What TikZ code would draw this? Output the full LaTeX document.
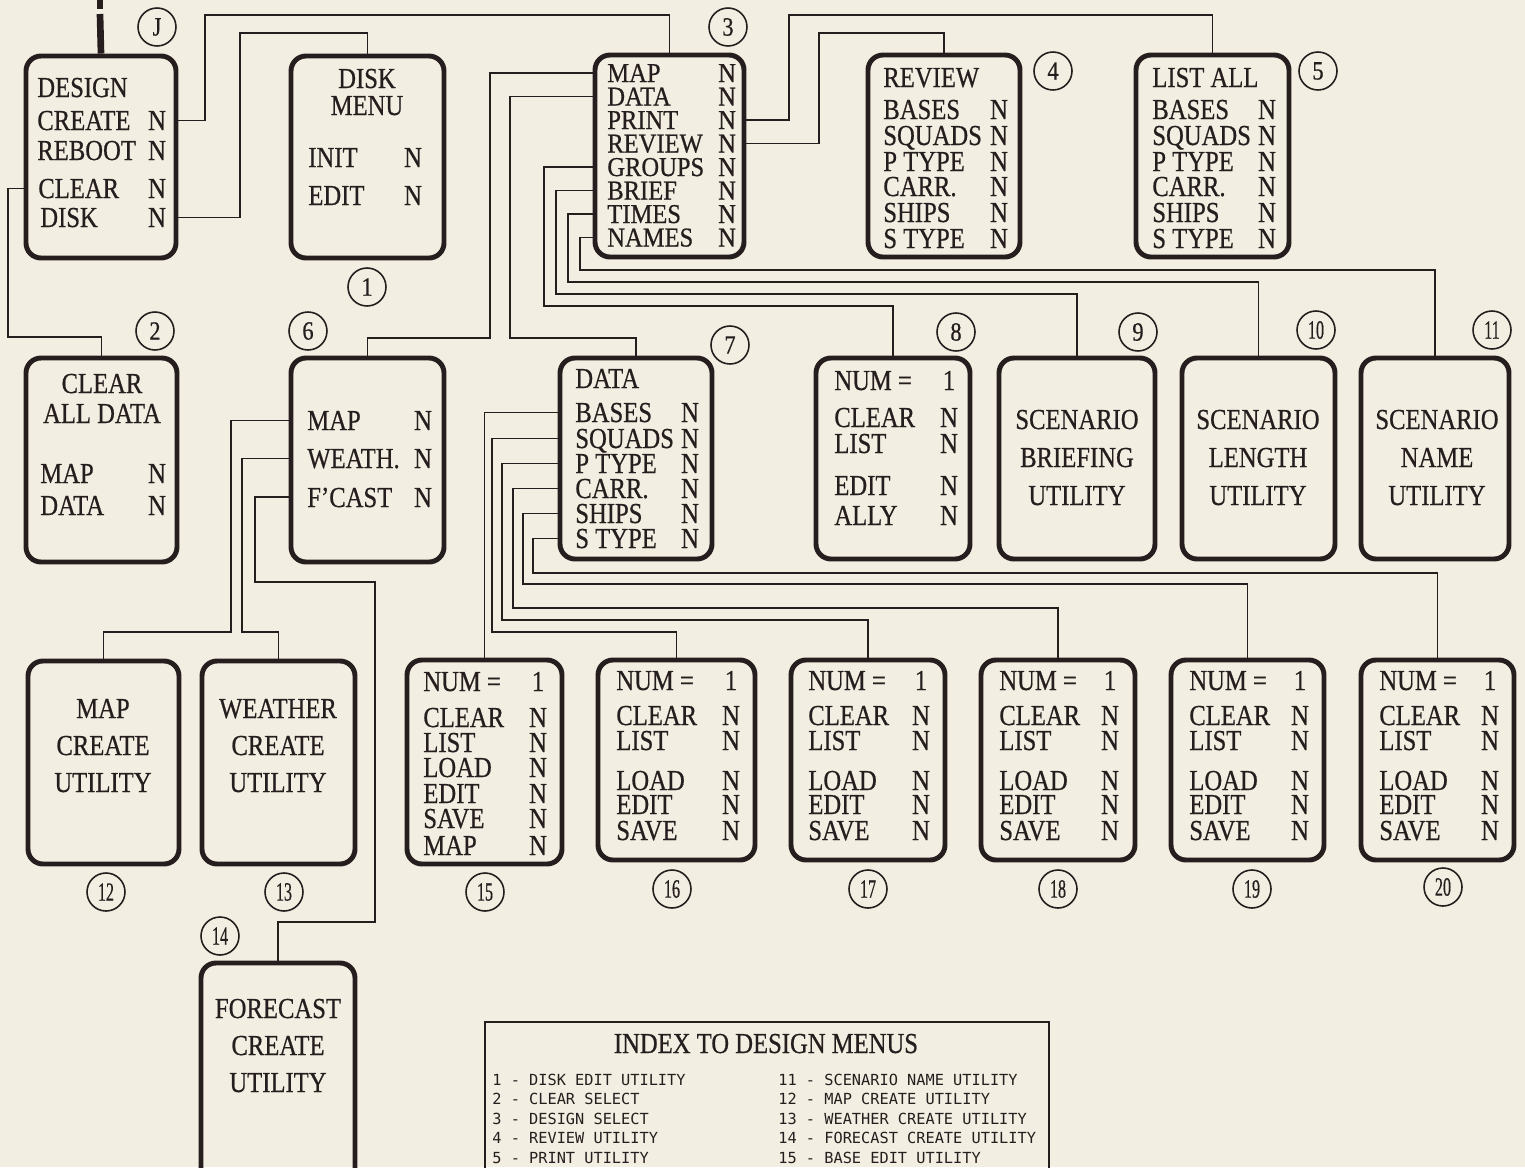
\documentclass[tikz,border=0pt]{standalone}
\usepackage{fontspec}
\usepackage{graphicx}
\setmainfont{Liberation Serif}[FakeStretch=0.85,FakeBold=0.6]
\newfontfamily\idxfont{DejaVu Sans Mono}
\usetikzlibrary{fit}
\definecolor{paper}{RGB}{242,238,225}
\definecolor{ink}{RGB}{38,30,30}
\tikzset{
  menubox/.style={draw=ink, line width=2.8pt, rounded corners=0.3cm, inner sep=0pt},
  conn/.style={draw=ink, line width=1pt},
  lbl/.style={text=ink, inner sep=0pt, text depth=0pt, anchor=base west, font=\fontsize{16.5}{16.5}\selectfont},
  val/.style={lbl, anchor=base},
  ctr/.style={lbl, anchor=base},
  slbl/.style={lbl, font=\fontsize{15.5}{15.5}\selectfont},
  sval/.style={slbl, anchor=base},
  numc/.style={draw=ink, circle, line width=0.9pt, minimum size=0.76cm, inner sep=0pt, text=ink, font=\fontsize{15}{15}\selectfont},
  idx/.style={text=ink, inner sep=0pt, anchor=base west, font=\idxfont\fontsize{8.7}{8.7}\selectfont},
}
\newcommand\mrow[6]{%
  \node[lbl] (#1) at (#2,#4) {#5};
  \node[val] (#1n) at (#3,#4) {#6};}
\newcommand\srow[6]{%
  \node[slbl] (#1) at (#2,#4) {\scalebox{1.06}[1]{#5}};
  \node[sval] (#1n) at (#3,#4) {\scalebox{1.06}[1]{#6}};}
\newcommand\tw[1]{\scalebox{0.72}[1]{#1}}
\begin{document}
\begin{tikzpicture}[x=0.02cm,y=-0.02cm]
\fill[paper] (0,0) rectangle (1525,1167);
\useasboundingbox (0,0) rectangle (1525,1167);
\clip (0,0) rectangle (1525,1167);

% ---------- boxes ----------
\node[menubox, fit={(26,56) (176,258)}] (b0) {};
\node[menubox, fit={(291,56) (444,258)}] (b1) {};
\node[menubox, fit={(26,358) (177,562)}] (b2) {};
\node[menubox, fit={(595,55) (744,257)}] (b3) {};
\node[menubox, fit={(868,55) (1020,257)}] (b4) {};
\node[menubox, fit={(1136,55) (1289,257)}] (b5) {};
\node[menubox, fit={(291,358) (444,562)}] (b6) {};
\node[menubox, fit={(560,358) (712,559)}] (b7) {};
\node[menubox, fit={(816,358) (970,559)}] (b8) {};
\node[menubox, fit={(999,358) (1155,559)}] (b9) {};
\node[menubox, fit={(1182,358) (1335,559)}] (b10) {};
\node[menubox, fit={(1361,358) (1509,559)}] (b11) {};
\node[menubox, fit={(28,661) (179,864)}] (b12) {};
\node[menubox, fit={(202,661) (355,864)}] (b13) {};
\node[menubox, fit={(201,963) (355,1200)}] (b14) {};
\node[menubox, fit={(407,660) (562,864)}] (b15) {};
\node[menubox, fit={(598,660) (755,860)}] (b16) {};
\node[menubox, fit={(791,660) (945,860)}] (b17) {};
\node[menubox, fit={(981,660) (1135,860)}] (b18) {};
\node[menubox, fit={(1171,660) (1324,860)}] (b19) {};
\node[menubox, fit={(1361,660) (1514,860)}] (b20) {};
\node[draw=ink, line width=1.2pt, inner sep=0pt, fit={(485,1022) (1049,1200)}] (bidx) {};

% ---------- circled numbers ----------
\node[numc] (c0) at (157,27) {J};
\node[numc] (c1) at (367,287) {1};
\node[numc] (c2) at (155,331) {2};
\node[numc] (c3) at (728,27) {3};
\node[numc] (c4) at (1053,71) {4};
\node[numc] (c5) at (1318,71) {5};
\node[numc] (c6) at (308,331) {6};
\node[numc] (c7) at (730,345) {7};
\node[numc] (c8) at (956,332) {8};
\node[numc] (c9) at (1138,332) {9};
\node[numc] (c10) at (1316,330) {\tw{10}};
\node[numc] (c11) at (1492,330) {\tw{11}};
\node[numc] (c12) at (106,892) {\tw{12}};
\node[numc] (c13) at (284,892) {\tw{13}};
\node[numc] (c14) at (220,936) {\tw{14}};
\node[numc] (c15) at (485,892) {\tw{15}};
\node[numc] (c16) at (672,889) {\tw{16}};
\node[numc] (c17) at (868,889) {\tw{17}};
\node[numc] (c18) at (1058,889) {\tw{18}};
\node[numc] (c19) at (1252,889) {\tw{19}};
\node[numc] (c20) at (1443,887) {\tw{20}};

% ---------- texts ----------
% J: design
\node[lbl] (jdesign) at (37,97) {DESIGN};
\mrow{jcreate}{37}{157}{130}{CREATE}{N}
\mrow{jreboot}{37}{157}{160}{REBOOT}{N}
\mrow{jclear}{38}{157}{198}{CLEAR}{N}
\mrow{jdisk}{40}{157}{227}{DISK}{N}
% 1: disk menu
\node[ctr] (dk1) at (367,88) {DISK};
\node[ctr] (dk2) at (367,115) {MENU};
\mrow{dinit}{308}{413}{167}{INIT}{N}
\mrow{dedit}{308}{413}{205}{EDIT}{N}
% 2: clear
\node[ctr] (ca) at (102,393) {CLEAR};
\node[ctr] (cb) at (102,423) {ALL DATA};
\mrow{cmap}{40}{157}{483}{MAP}{N}
\mrow{cdata}{40}{157}{515}{DATA}{N}
% 3: design select
\srow{smap}{607}{727}{82}{MAP}{N}
\srow{sdata}{607}{727}{105.5}{DATA}{N}
\srow{sprint}{607}{727}{129}{PRINT}{N}
\srow{sreview}{607}{727}{152.5}{REVIEW}{N}
\srow{sgroups}{607}{727}{176}{GROUPS}{N}
\srow{sbrief}{607}{727}{199.5}{BRIEF}{N}
\srow{stimes}{607}{727}{223}{TIMES}{N}
\srow{snames}{607}{727}{246.5}{NAMES}{N}
% 4: review
\node[lbl] (rtitle) at (883,87) {REVIEW};
\mrow{rbases}{883}{999}{119}{BASES}{N}
\mrow{rsquads}{883}{999}{145}{SQUADS}{N}
\mrow{rptype}{883}{999}{171}{P TYPE}{N}
\mrow{rcarr}{883}{999}{196}{CARR.}{N}
\mrow{rships}{883}{999}{222}{SHIPS}{N}
\mrow{rstype}{883}{999}{248}{S TYPE}{N}
% 5: list all
\node[lbl] (ltitle) at (1152,87) {LIST ALL};
\mrow{lbases}{1152}{1267}{119}{BASES}{N}
\mrow{lsquads}{1152}{1267}{145}{SQUADS}{N}
\mrow{lptype}{1152}{1267}{171}{P TYPE}{N}
\mrow{lcarr}{1152}{1267}{196}{CARR.}{N}
\mrow{lships}{1152}{1267}{222}{SHIPS}{N}
\mrow{lstype}{1152}{1267}{248}{S TYPE}{N}
% 6: map/weather/forecast
\mrow{fmap}{307}{423}{430}{MAP}{N}
\mrow{fweath}{307}{423}{468}{WEATH.}{N}
\mrow{ffc}{307}{423}{507}{F’CAST}{N}
% 7: data
\node[lbl] (dtitle) at (575,388) {DATA};
\mrow{dbases}{575}{690}{422}{BASES}{N}
\mrow{dsquads}{575}{690}{448}{SQUADS}{N}
\mrow{dptype}{575}{690}{473}{P TYPE}{N}
\mrow{dcarr}{575}{690}{498}{CARR.}{N}
\mrow{dships}{575}{690}{523}{SHIPS}{N}
\mrow{dstype}{575}{690}{548}{S TYPE}{N}
% 8: groups
\mrow{gnum}{834}{949}{390}{NUM =}{1}
\mrow{gclear}{834}{949}{427}{CLEAR}{N}
\mrow{glist}{834}{949}{453}{LIST}{N}
\mrow{gedit}{834}{949}{495}{EDIT}{N}
\mrow{gally}{834}{949}{525}{ALLY}{N}
% 9-11
\node[ctr] (ba) at (1077,429) {SCENARIO};
\node[ctr] (bb) at (1077,467) {BRIEFING};
\node[ctr] (bc) at (1077,505) {UTILITY};
\node[ctr] (ta) at (1258,429) {SCENARIO};
\node[ctr] (tb) at (1258,467) {LENGTH};
\node[ctr] (tc) at (1258,505) {UTILITY};
\node[ctr] (na) at (1437,429) {SCENARIO};
\node[ctr] (nb) at (1437,467) {NAME};
\node[ctr] (nc) at (1437,505) {UTILITY};
% 12-14
\node[ctr] (ma) at (103,718) {MAP};
\node[ctr] (mb) at (103,755) {CREATE};
\node[ctr] (mc) at (103,792) {UTILITY};
\node[ctr] (wa) at (278,718) {WEATHER};
\node[ctr] (wb) at (278,755) {CREATE};
\node[ctr] (wc) at (278,792) {UTILITY};
\node[ctr] (fa) at (278,1018) {FORECAST};
\node[ctr] (fb) at (278,1055) {CREATE};
\node[ctr] (fc) at (278,1092) {UTILITY};
% 15
\mrow{pnum}{423}{538}{691}{NUM =}{1}
\mrow{pclear}{423}{538}{727}{CLEAR}{N}
\mrow{plist}{423}{538}{752}{LIST}{N}
\mrow{pload}{423}{538}{777}{LOAD}{N}
\mrow{pedit}{423}{538}{803}{EDIT}{N}
\mrow{psave}{423}{538}{828}{SAVE}{N}
\mrow{pmap}{423}{538}{855}{MAP}{N}
% 16-20
\foreach \k/\xl/\xn in {q/616/731, r/808/921, s/999/1110, t/1189/1300, u/1379/1490}{
  \mrow{\k num}{\xl}{\xn}{690}{NUM =}{1}
  \mrow{\k clear}{\xl}{\xn}{725}{CLEAR}{N}
  \mrow{\k list}{\xl}{\xn}{750}{LIST}{N}
  \mrow{\k load}{\xl}{\xn}{790}{LOAD}{N}
  \mrow{\k edit}{\xl}{\xn}{814}{EDIT}{N}
  \mrow{\k save}{\xl}{\xn}{840}{SAVE}{N}
}
% index
\node[ctr] (ititle) at (766,1053) {INDEX TO DESIGN MENUS};
\node[idx] (i1) at (492,1085) {1 - DISK EDIT UTILITY};
\node[idx] (i2) at (492,1104.5) {2 - CLEAR SELECT};
\node[idx] (i3) at (492,1124) {3 - DESIGN SELECT};
\node[idx] (i4) at (492,1143.5) {4 - REVIEW UTILITY};
\node[idx] (i5) at (492,1163) {5 - PRINT UTILITY};
\node[idx] (i11) at (778,1085) {11 - SCENARIO NAME UTILITY};
\node[idx] (i12) at (778,1104.5) {12 - MAP CREATE UTILITY};
\node[idx] (i13) at (778,1124) {13 - WEATHER CREATE UTILITY};
\node[idx] (i14) at (778,1143.5) {14 - FORECAST CREATE UTILITY};
\node[idx] (i15) at (778,1163) {15 - BASE EDIT UTILITY};

% ---------- connectors ----------
\coordinate (jt0) at (100,0);
\coordinate (jt1) at (100,9);
\coordinate (jt2) at (100,14);
\draw[ink, line width=3.8pt] (jt0) -- (jt1);
\draw[ink, line width=3.8pt] (jt2) -- (b0.north);

\coordinate (k1) at (205,15);
\coordinate (k2) at (240,33);
\coordinate (k3) at (8,337);
\coordinate (k5) at (490,338);
\coordinate (k6) at (510,338);
\coordinate (k7) at (789,15);
\coordinate (k8) at (819,33);
\coordinate (k9) at (544,306);
\coordinate (k10) at (556,294);
\coordinate (k11) at (568,282);
\coordinate (k12) at (580,270);
\coordinate (k13) at (231,632);
\coordinate (k14) at (242,632);
\coordinate (k15) at (255,582);
\coordinate (k16) at (375,922);
\coordinate (k17) at (492,632);
\coordinate (k18) at (502,620);
\coordinate (k19) at (513,608);
\coordinate (k20) at (523,584);
\coordinate (k21) at (533,573);

\draw[conn] (b0.east |- jcreate) -| (k1) -| (b3.north);
\draw[conn] (b0.east |- jdisk) -| (k2) -| (b1.north);
\draw[conn] (b0.west |- jclear) -| (k3) -| (b2.north);

\draw[conn] (b3.west |- smap) -| (k5) -| (b6.north);
\draw[conn] (b3.west |- sdata) -| (k6) -| (b7.north);
\draw[conn] (b3.east |- sprint) -| (k7) -| (b5.north);
\draw[conn] (b3.east |- sreview) -| (k8) -| (b4.north);
\draw[conn] (b3.west |- sgroups) -| (k9) -| (b8.north);
\draw[conn] (b3.west |- sbrief) -| (k10) -| (b9.north);
\draw[conn] (b3.west |- stimes) -| (k11) -| (b10.north);
\draw[conn] (b3.west |- snames) -| (k12) -| (b11.north);

\draw[conn] (b6.west |- fmap) -| (k13) -| (b12.north);
\draw[conn] (b6.west |- fweath) -| (k14) -| (b13.north);
\draw[conn] (b6.west |- ffc) -| (k15) -| (k16) -| (b14.north);

\draw[conn] (b7.west |- dbases) -| (b15.north);
\draw[conn] (b7.west |- dsquads) -| (k17) -| (b16.north);
\draw[conn] (b7.west |- dptype) -| (k18) -| (b17.north);
\draw[conn] (b7.west |- dcarr) -| (k19) -| (b18.north);
\draw[conn] (b7.west |- dships) -| (k20) -| (b19.north);
\draw[conn] (b7.west |- dstype) -| (k21) -| (b20.north);
\end{tikzpicture}
\end{document}
